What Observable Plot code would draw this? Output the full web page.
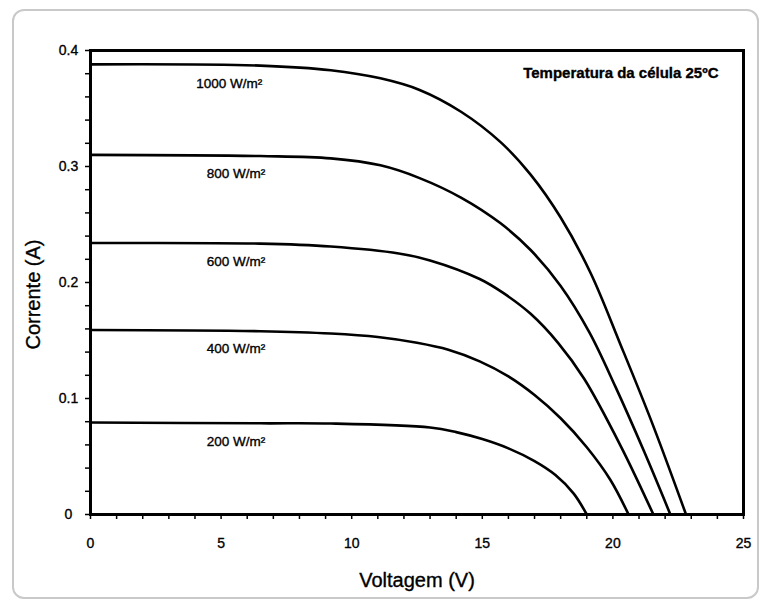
<!DOCTYPE html>
<html>
<head>
<meta charset="utf-8">
<script src="https://cdn.jsdelivr.net/npm/d3@7"></script>
<script src="https://cdn.jsdelivr.net/npm/@observablehq/plot@0.6"></script>
<style>
  body { margin: 0; background: #fff; }
  #wrap { position: relative; width: 761px; height: 603px; font-family: "Liberation Sans", Arial, Helvetica, sans-serif; }
  #border { position: absolute; left: 12px; top: 9px; width: 743px; height: 586px; border: 2px solid #c9c9c9; border-radius: 12px; pointer-events: none; }
  #chart { position: absolute; left: 0; top: 0; }
  #chart svg text { stroke: #000; stroke-width: 0.35px; paint-order: stroke; }
</style>
</head>
<body>
<div id="wrap"><div id="border"></div><div id="chart"></div></div>
<script>
// Irradiance series (V in volts, I in amperes)
const seriesNames = ["1000 W/m²", "800 W/m²", "600 W/m²", "400 W/m²", "200 W/m²"];

const v1000 = [0, 6.5, 9.2, 11.1, 12.6, 14.2, 15.7, 16.85, 18.0, 19.15, 20.3, 21.5, 22.8];
const i1000 = [0.388, 0.387, 0.383, 0.376, 0.366, 0.347, 0.321, 0.293, 0.256, 0.208, 0.146, 0.079, 0];

const v800 = [0, 6.5, 9.2, 11.1, 12.6, 14.2, 15.7, 16.85, 18.0, 19.1, 20.1, 21.2, 22.2];
const i800 = [0.310, 0.309, 0.307, 0.301, 0.290, 0.273, 0.251, 0.228, 0.197, 0.157, 0.110, 0.054, 0];

const v600 = [0, 6.5, 9.2, 11.8, 13.0, 14.9, 15.8, 16.85, 17.9, 18.9, 20.3, 21.55];
const i600 = [0.234, 0.2335, 0.231, 0.225, 0.219, 0.203, 0.191, 0.173, 0.148, 0.117, 0.059, 0];

const v400 = [0, 6.5, 9.2, 11.0, 12.5, 13.7, 14.9, 16.0, 17.0, 18.0, 19.0, 19.9, 20.6];
const i400 = [0.159, 0.158, 0.156, 0.153, 0.148, 0.142, 0.132, 0.119, 0.103, 0.083, 0.058, 0.030, 0];

const v200 = [0, 6.5, 9.2, 13.0, 14.0, 15.0, 16.0, 17.0, 17.8, 18.5, 19.0];
const i200 = [0.0793, 0.0786, 0.0784, 0.075, 0.071, 0.065, 0.057, 0.046, 0.034, 0.018, 0];

const xTicks = [0, 5, 10, 15, 20, 25];
const xTickLabels = ["0", "5", "10", "15", "20", "25"];
const yTicks = [0, 0.1, 0.2, 0.3, 0.4];
const yTickLabels = ["0", "0.1", "0.2", "0.3", "0.4"];
const xTitle = "Voltagem (V)";
const yTitle = "Corrente (A)";
const note = "Temperatura da célula 25ºC";

const vs = [v1000, v800, v600, v400, v200];
const is = [i1000, i800, i600, i400, i200];
const rows = [];
seriesNames.forEach((s, k) => vs[k].forEach((v, j) => rows.push({series: s, v, i: is[k][j]})));
const labelRows = seriesNames.map((s, k) => ({series: s, v: k === 0 ? 4.05 : 4.45, i: is[k][0]}));

const font = "Liberation Sans, Arial, Helvetica, sans-serif";

const chart = Plot.plot({
  width: 761,
  height: 603,
  marginLeft: 90,
  marginRight: 18,
  marginTop: 50,
  marginBottom: 89,
  style: {background: "transparent", fontFamily: font, fontSize: "14px", color: "#000"},
  x: {domain: [0, 25]},
  y: {domain: [0, 0.4]},
  marks: [
    Plot.axisX({ticks: d3.range(0, 26, 1), tickSize: 5, tickFormat: () => "", label: null, strokeWidth: 1.5}),
    Plot.axisX(xTicks, {tickSize: 0, tickPadding: 24, tickFormat: (d, i) => xTickLabels[i], label: null, fontSize: 14}),
    Plot.axisY({ticks: d3.range(0, 21).map(k => k * 0.02), tickSize: 5, tickFormat: () => "", label: null, strokeWidth: 1.5}),
    Plot.axisY(yTicks, {tickSize: 0, tickPadding: 22, textAnchor: "middle", tickFormat: (d, i) => yTickLabels[i], label: null, fontSize: 14}),
    Plot.line(rows, {x: "v", y: "i", z: "series", curve: "catmull-rom", stroke: "#000", strokeWidth: 2.6}),
    Plot.frame({stroke: "#000", strokeWidth: 3}),
    Plot.text(labelRows, {x: "v", y: "i", text: "series", textAnchor: "start", dy: 19, fontSize: 13.5, fill: "#000"}),
    Plot.text([note], {frameAnchor: "top-right", dx: -25, dy: 23, textAnchor: "end", lineAnchor: "middle", fontSize: 15, fontWeight: "bold", fill: "#000"}),
    Plot.text([xTitle], {frameAnchor: "bottom", dy: 66, textAnchor: "middle", lineAnchor: "middle", fontSize: 20, fill: "#000"}),
    Plot.text([yTitle], {frameAnchor: "left", dx: -57, dy: 12, rotate: -90, textAnchor: "middle", lineAnchor: "middle", fontSize: 20, fill: "#000"})
  ]
});
document.getElementById("chart").appendChild(chart);
</script>
</body>
</html>
